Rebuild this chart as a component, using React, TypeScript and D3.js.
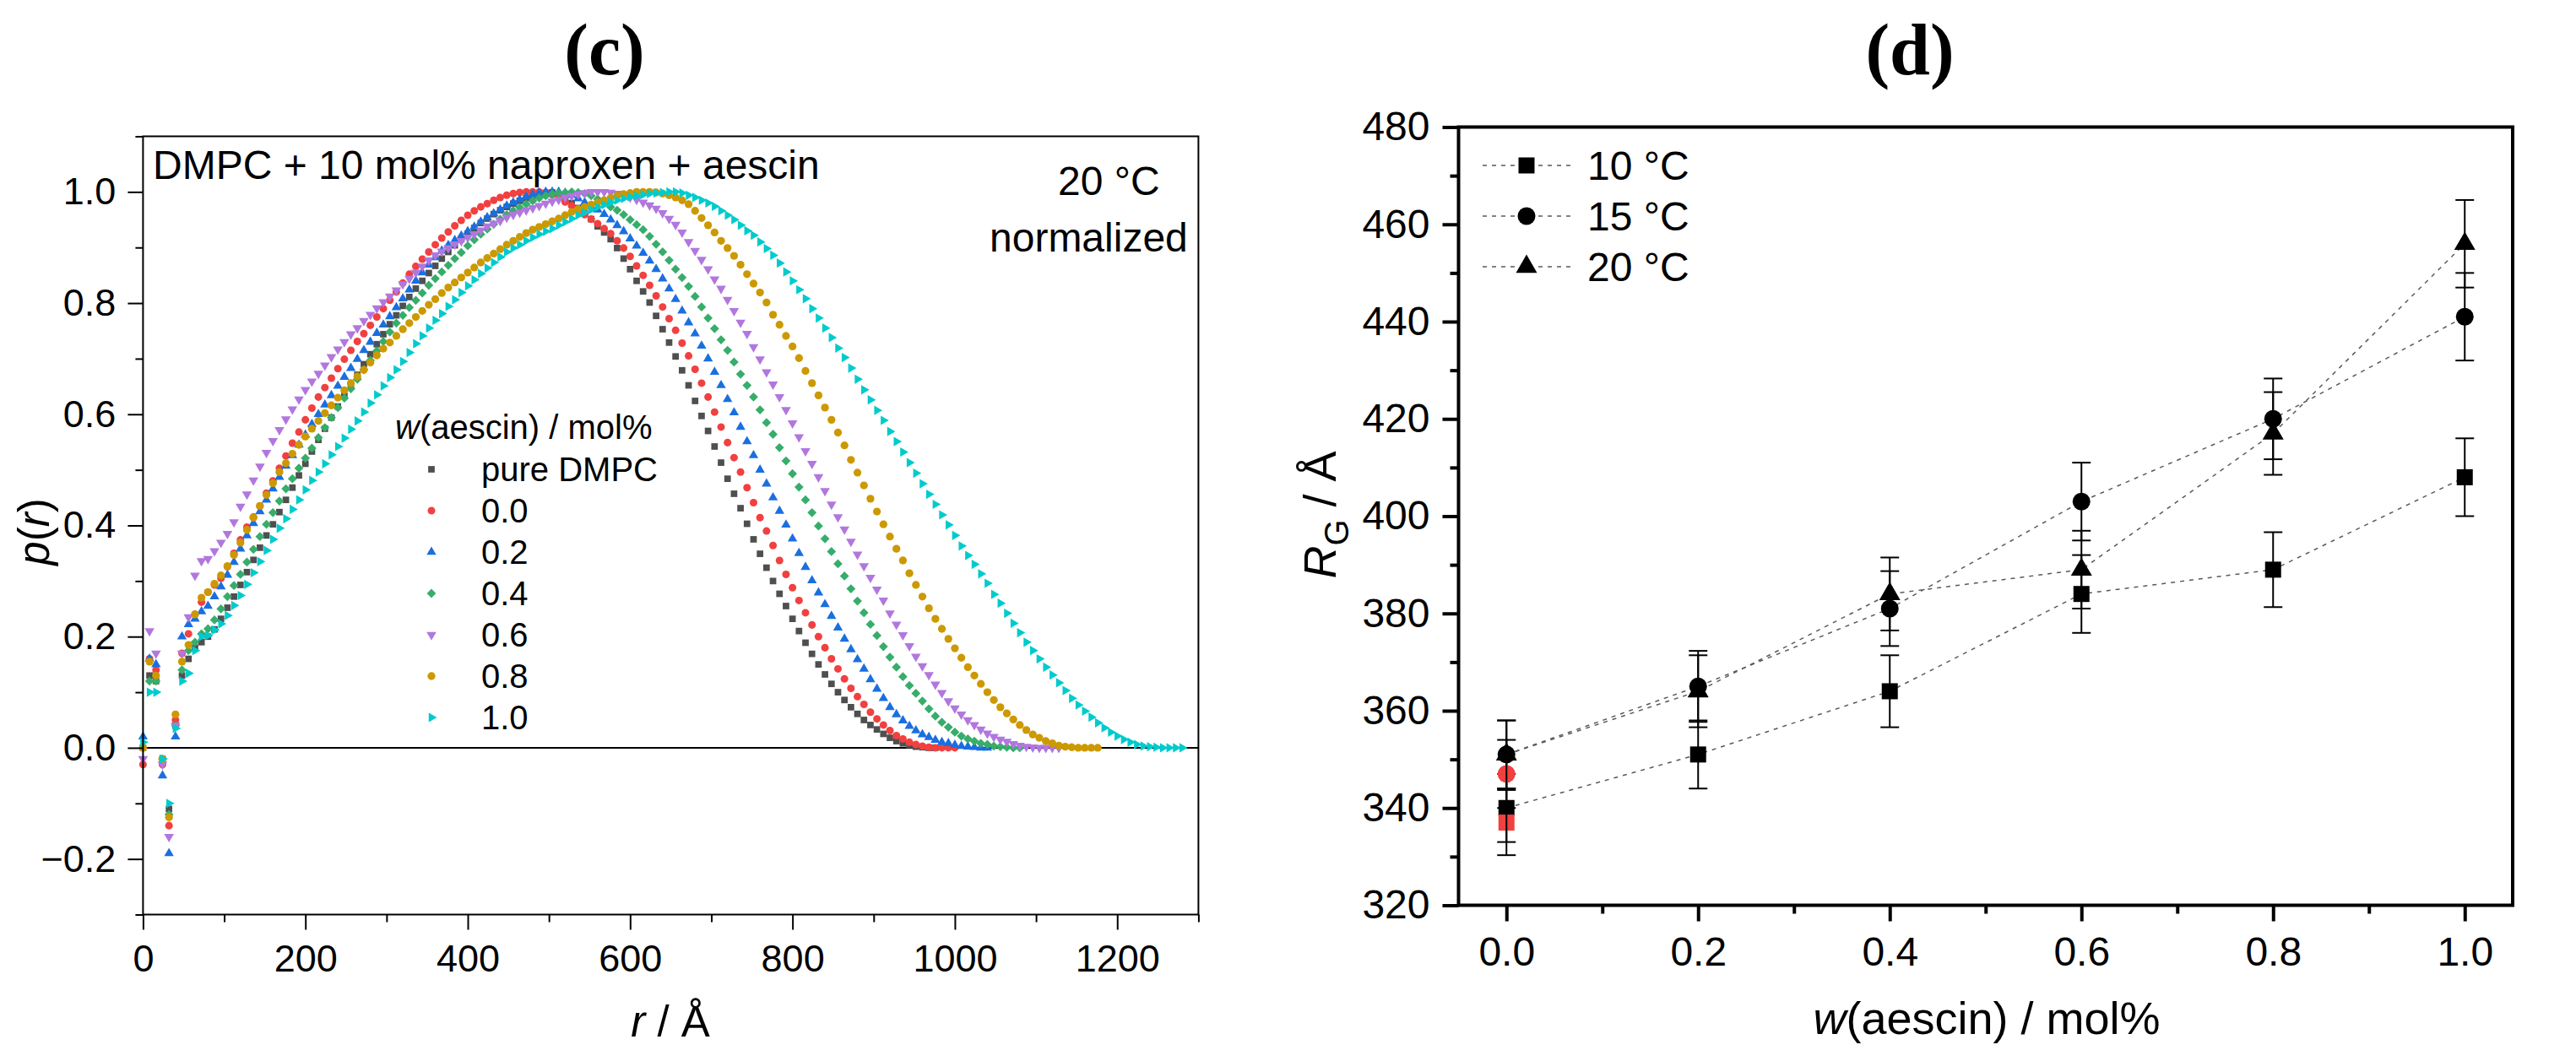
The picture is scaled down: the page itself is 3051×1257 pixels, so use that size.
import { useEffect, useRef } from 'react';
import * as d3 from 'd3';

// ---- panel (c): normalized p(r), values in 1/1000, sampled every R_STEP Å from r = 0
const R_STEP = 8;

const pureDmpc = [
  0, 130, 120, -20, -110, 40, 130, 160, 180, 190,
  200, 213, 232, 252, 272, 293, 316, 338, 360, 382,
  402, 424, 446, 468, 490, 511, 533, 554, 574, 594,
  614, 633, 652, 671, 690, 708, 726, 744, 762, 778,
  795, 811, 826, 840, 854, 867, 880, 892, 904, 915,
  925, 935, 944, 952, 960, 967, 973, 979, 984, 989,
  993, 996, 998, 999, 995, 988, 980, 971, 962, 951,
  938, 927, 915, 899, 880, 861, 840, 821, 801, 777,
  753, 729, 704, 679, 652, 624, 597, 570, 542, 513,
  484, 457, 431, 403, 375, 349, 324, 300, 277, 255,
  232, 210, 189, 169, 150, 132, 115, 100, 86, 73,
  61, 50, 41, 33, 25, 18, 12, 8, 5, 2,
  1, 0, 0,
];

const aescin00 = [
  -30, 160, 140, -30, -140, 50, 170, 205, 240, 262,
  280, 293, 305, 326, 350, 374, 397, 415, 435, 458,
  480, 503, 525, 548, 568, 590, 611, 631, 648, 665,
  682, 699, 715, 731, 745, 760, 775, 790, 805, 820,
  836, 852, 866, 879, 892, 905, 917, 928, 939, 949,
  958, 966, 973, 979, 985, 990, 994, 997, 999, 1000,
  1000, 1000, 999, 995, 989, 982, 975, 967, 959, 951,
  943, 934, 925, 912, 899, 884, 867, 850, 832, 813,
  793, 772, 751, 728, 705, 681, 656, 631, 604, 577,
  549, 522, 496, 468, 441, 414, 390, 364, 337, 312,
  288, 265, 243, 221, 200, 180, 160, 142, 124, 107,
  92, 78, 64, 52, 41, 31, 22, 16, 10, 6,
  3, 1, 0, 0, 0, 0,
];

const aescin02 = [
  20, 160, 150, -50, -190, 20, 200, 222, 232, 245,
  255, 272, 290, 311, 334, 358, 382, 404, 425, 446,
  466, 487, 507, 526, 545, 563, 582, 600, 617, 634,
  651, 667, 683, 699, 715, 730, 746, 761, 776, 792,
  808, 824, 840, 855, 869, 882, 894, 904, 913, 921,
  929, 937, 946, 954, 961, 968, 975, 981, 986, 991,
  995, 998, 1000, 1000, 1000, 998, 994, 988, 981, 974,
  968, 960, 950, 940, 929, 916, 903, 890, 876, 861,
  844, 826, 807, 786, 765, 745, 723, 700, 676, 652,
  627, 603, 577, 551, 526, 500, 475, 450, 426, 401,
  376, 350, 325, 301, 279, 258, 237, 216, 196, 177,
  159, 142, 123, 106, 89, 73, 60, 49, 39, 31,
  24, 19, 14, 10, 8, 5, 3, 2, 1, 0, 0,
];

const aescin04 = [
  0, 120, 120, -20, -120, 40, 140, 175, 190, 205,
  214, 230, 250, 272, 292, 312, 334, 357, 380, 402,
  423, 444, 466, 484, 503, 521, 539, 558, 576, 594,
  612, 629, 646, 663, 680, 697, 714, 731, 748, 764,
  778, 792, 805, 818, 832, 844, 856, 868, 880, 891,
  903, 914, 924, 933, 942, 951, 959, 966, 972, 978,
  984, 989, 993, 996, 998, 999, 1000, 999, 997, 993,
  987, 980, 973, 967, 959, 950, 941, 932, 920, 906,
  892, 877, 861, 846, 830, 812, 793, 773, 754, 734,
  715, 694, 672, 652, 631, 608, 585, 564, 540, 516,
  493, 469, 446, 423, 399, 376, 353, 331, 309, 286,
  264, 243, 222, 202, 182, 163, 145, 128, 112, 98,
  84, 70, 57, 46, 37, 28, 21, 16, 12, 8,
  6, 3, 2, 1, 0, 0,
];

const aescin06 = [
  -20, 210, 170, -30, -160, 40, 170, 235, 310, 336,
  340, 354, 369, 385, 406, 434, 456, 481, 506, 531,
  552, 572, 591, 609, 627, 644, 659, 673, 688, 703,
  717, 730, 744, 755, 768, 779, 791, 802, 812, 823,
  834, 844, 855, 866, 877, 886, 893, 899, 906, 912,
  918, 924, 931, 938, 943, 948, 954, 959, 963, 967,
  971, 975, 979, 983, 986, 990, 993, 996, 998, 1000,
  1000, 1000, 999, 997, 994, 990, 986, 981, 976, 970,
  962, 952, 941, 927, 910, 894, 878, 861, 843, 826,
  806, 786, 765, 745, 721, 699, 676, 654, 631, 608,
  584, 559, 534, 511, 487, 462, 438, 415, 393, 371,
  348, 327, 306, 285, 265, 242, 222, 203, 183, 164,
  147, 131, 114, 99, 84, 71, 60, 50, 41, 33,
  26, 20, 15, 11, 7, 4, 2, 1, 0, 0,
  0, 0,
];

const aescin08 = [
  0, 155, 130, -20, -125, 60, 155, 185, 240, 270,
  280, 295, 310, 327, 347, 369, 392, 414, 435, 455,
  476, 496, 512, 529, 545, 560, 574, 588, 602, 616,
  630, 643, 656, 668, 680, 693, 706, 718, 729, 741,
  753, 764, 775, 786, 797, 807, 818, 828, 837, 846,
  855, 864, 873, 881, 889, 897, 905, 912, 919, 926,
  932, 937, 942, 947, 952, 958, 964, 969, 973, 977,
  981, 985, 989, 993, 996, 998, 1000, 1000, 1000, 999,
  997, 994, 990, 985, 978, 966, 953, 940, 927, 912,
  899, 885, 869, 852, 835, 819, 801, 779, 761, 741,
  722, 701, 678, 656, 634, 612, 590, 567, 544, 518,
  495, 472, 448, 425, 402, 380, 358, 337, 314, 293,
  272, 251, 232, 214, 196, 179, 162, 145, 130, 115,
  100, 86, 73, 62, 51, 41, 32, 24, 18, 12,
  8, 4, 2, 1, 0, 0, 0, 0,
];

const aescin10 = [
  10, 100, 100, -20, -100, 35, 120, 134, 175, 200,
  202, 212, 223, 238, 256, 274, 294, 315, 335, 355,
  375, 395, 412, 429, 446, 464, 481, 496, 511, 527,
  542, 557, 573, 588, 604, 620, 635, 651, 666, 680,
  695, 711, 727, 741, 755, 769, 781, 794, 806, 819,
  831, 842, 853, 863, 873, 883, 892, 899, 905, 912,
  918, 924, 929, 934, 940, 946, 952, 958, 963, 968,
  973, 977, 981, 985, 988, 991, 993, 995, 997, 998,
  999, 1000, 1000, 998, 994, 990, 985, 980, 974, 966,
  958, 950, 940, 930, 922, 910, 898, 886, 872, 856,
  840, 824, 808, 790, 773, 755, 738, 719, 702, 683,
  663, 644, 626, 607, 589, 569, 551, 532, 513, 494,
  475, 456, 438, 419, 401, 382, 363, 346, 330, 313,
  296, 276, 260, 242, 224, 207, 190, 175, 160, 145,
  131, 117, 103, 89, 77, 66, 55, 45, 36, 28,
  21, 15, 10, 6, 3, 2, 1, 0, 0, 0,
  0,
];

const prLabels = ['pure DMPC', '0.0', '0.2', '0.4', '0.6', '0.8', '1.0'];
const prValues = [pureDmpc, aescin00, aescin02, aescin04, aescin06, aescin08, aescin10];
const pTicks = [-0.2, 0, 0.2, 0.4, 0.6, 0.8, 1.0];
const rTicks = [0, 200, 400, 600, 800, 1000, 1200];

// ---- panel (d): radius of gyration
const wAescin = [0, 0.2, 0.4, 0.6, 0.8, 1.0];
const rg10 = [340, 351, 364, 384, 389, 408];
const rg10Err = [7, 7, 7.4, 8, 7.7, 8];
const rg15 = [351, 365, 381, 403, 420, 441];
const rg15Err = [7, 7.3, 7.7, 8, 8.3, 9];
const rg20 = [351, 364, 384, 389, 417, 456];
const rg20Err = [7, 7.4, 7.5, 8, 8.5, 9];
// red reference points at w = 0
const refW = [0];
const refRg10 = [337];
const refRg10Err = [6.7];
const refRg15 = [347];
const refRg15Err = [7];
const rgTicks = [320, 340, 360, 380, 400, 420, 440, 460, 480];
const wTicks = [0, 0.2, 0.4, 0.6, 0.8, 1.0];
const rgLegend = ['10 \u00B0C', '15 \u00B0C', '20 \u00B0C'];

const FONT = '"Liberation Sans", Arial, sans-serif';
const SERIF = '"Liberation Serif", "Times New Roman", serif';

type Shape = 'square' | 'circle' | 'triangle' | 'diamond' | 'triangleDown' | 'triangleRight';

const shapeType: Record<Shape, d3.SymbolType> = {
  square: d3.symbolSquare,
  circle: d3.symbolCircle,
  triangle: d3.symbolTriangle,
  diamond: d3.symbolSquare,
  triangleDown: d3.symbolTriangle,
  triangleRight: d3.symbolTriangle,
};
const shapeRotate: Record<Shape, number> = {
  square: 0, circle: 0, triangle: 0, diamond: 45, triangleDown: 180, triangleRight: 90,
};

const prStyles: { color: string; shape: Shape; size: number }[] = [
  { color: '#4f4f4f', shape: 'square', size: 60 },
  { color: '#f14040', shape: 'circle', size: 64 },
  { color: '#1a6fdf', shape: 'triangle', size: 56 },
  { color: '#37ad6b', shape: 'diamond', size: 58 },
  { color: '#b177de', shape: 'triangleDown', size: 58 },
  { color: '#cc9900', shape: 'circle', size: 68 },
  { color: '#00cbcc', shape: 'triangleRight', size: 54 },
];

function symbolD(shape: Shape, size: number) {
  return d3.symbol(shapeType[shape], size)() as string;
}

function styleAxis(sel: any, fontSize: number, strokeWidth: number) {
  sel.select('.domain').remove();
  sel.attr('font-family', FONT).attr('font-size', fontSize);
  sel.selectAll('.tick line').attr('stroke', '#000').attr('stroke-width', strokeWidth);
  sel.selectAll('.tick text').attr('fill', '#000');
}

function drawPr(g: any) {
  const left = 169.4, right = 1419.4, top = 161.5, bottom = 1083.5;
  const x = d3.scaleLinear().domain([0, 1300]).range([left, right]);
  const y = d3.scaleLinear().domain([-0.3, 1.1]).range([bottom, top]);

  g.append('line')
    .attr('x1', left).attr('x2', right)
    .attr('y1', y(0)).attr('y2', y(0))
    .attr('stroke', '#000').attr('stroke-width', 2);

  prValues.forEach((vals, k) => {
    const st = prStyles[k];
    const d = symbolD(st.shape, st.size);
    g.append('g')
      .selectAll('path')
      .data(vals)
      .join('path')
      .attr('d', d)
      .attr('fill', st.color)
      .attr('transform', (v: number, i: number) =>
        `translate(${x(i * R_STEP)},${y(v / 1000)}) rotate(${shapeRotate[st.shape]})`);
  });

  g.append('rect')
    .attr('x', left).attr('y', top)
    .attr('width', right - left).attr('height', bottom - top)
    .attr('fill', 'none').attr('stroke', '#000').attr('stroke-width', 2);

  g.append('g').attr('transform', `translate(${left},0)`)
    .call(d3.axisLeft(y).tickValues(pTicks).tickSize(18).tickPadding(14).tickFormat(d3.format('.1f')))
    .call(styleAxis, 45, 2);
  g.append('g').attr('transform', `translate(${left},0)`)
    .call(d3.axisLeft(y).tickValues(d3.range(-0.3, 1.15, 0.2)).tickSize(9).tickFormat(() => ''))
    .call(styleAxis, 45, 2);
  g.append('g').attr('transform', `translate(0,${bottom})`)
    .call(d3.axisBottom(x).tickValues(rTicks).tickSize(18).tickPadding(18).tickFormat(d3.format('d')))
    .call(styleAxis, 45, 2);
  g.append('g').attr('transform', `translate(0,${bottom})`)
    .call(d3.axisBottom(x).tickValues(d3.range(100, 1400, 200)).tickSize(9).tickFormat(() => ''))
    .call(styleAxis, 45, 2);

  // axis titles
  const xt = g.append('text')
    .attr('x', 794).attr('y', 1228)
    .attr('text-anchor', 'middle')
    .attr('font-family', FONT).attr('font-size', 51);
  xt.append('tspan').attr('font-style', 'italic').text('r');
  xt.append('tspan').text(' / \u00C5');

  const yt = g.append('text')
    .attr('transform', 'translate(58,630) rotate(-90)')
    .attr('text-anchor', 'middle')
    .attr('font-family', FONT).attr('font-size', 51);
  yt.append('tspan').attr('font-style', 'italic').text('p');
  yt.append('tspan').text('(');
  yt.append('tspan').attr('font-style', 'italic').text('r');
  yt.append('tspan').text(')');

  // annotations
  g.append('text').attr('x', 181).attr('y', 212)
    .attr('font-family', FONT).attr('font-size', 48)
    .text('DMPC + 10 mol% naproxen + aescin');
  g.append('text').attr('x', 1253).attr('y', 231)
    .attr('font-family', FONT).attr('font-size', 48)
    .text('20 \u00B0C');
  g.append('text').attr('x', 1172).attr('y', 298)
    .attr('font-family', FONT).attr('font-size', 48)
    .text('normalized');

  // legend
  const lt = g.append('text').attr('x', 468).attr('y', 520)
    .attr('font-family', FONT).attr('font-size', 40);
  lt.append('tspan').attr('font-style', 'italic').text('w');
  lt.append('tspan').text('(aescin) / mol%');

  prLabels.forEach((label, k) => {
    const st = prStyles[k];
    const base = 570 + k * 49;
    g.append('path')
      .attr('d', symbolD(st.shape, st.size))
      .attr('fill', st.color)
      .attr('transform', `translate(511,${base - 14}) rotate(${shapeRotate[st.shape]})`);
    g.append('text').attr('x', 570).attr('y', base)
      .attr('font-family', FONT).attr('font-size', 40)
      .text(label);
  });

  g.append('text').attr('x', 716).attr('y', 88)
    .attr('text-anchor', 'middle')
    .attr('font-family', SERIF)
    .attr('font-weight', 'bold').attr('font-size', 86)
    .text('(c)');
}

function drawRg(g: any) {
  const left = 1727.5, right = 2976, top = 150.5, bottom = 1072.5;
  const x = d3.scaleLinear().domain([-0.05, 1.05]).range([left, right]);
  const y = d3.scaleLinear().domain([320, 480]).range([bottom, top]);

  const series = [
    { vals: rg10, err: rg10Err, shape: 'square' as Shape, size: 361 },
    { vals: rg15, err: rg15Err, shape: 'circle' as Shape, size: 346 },
    { vals: rg20, err: rg20Err, shape: 'triangle' as Shape, size: 270 },
  ];
  const refs = [
    { vals: refRg15, err: refRg15Err, shape: 'circle' as Shape, size: 346 },
    { vals: refRg10, err: refRg10Err, shape: 'square' as Shape, size: 361 },
  ];

  const line = d3.line<number>().x((_, i) => x(wAescin[i])).y((v) => y(v));
  series.forEach((s) => {
    g.append('path')
      .attr('d', line(s.vals))
      .attr('fill', 'none')
      .attr('stroke', '#5a5a5a').attr('stroke-width', 1.5)
      .attr('stroke-dasharray', '5,6');
  });

  const drawPoints = (ws: number[], vals: number[], err: number[], shape: Shape, size: number, color: string) => {
    g.append('g')
      .selectAll('path')
      .data(vals)
      .join('path')
      .attr('d', symbolD(shape, size))
      .attr('fill', color)
      .attr('transform', (v: number, i: number) => `translate(${x(ws[i])},${y(v)})`);
    const eg = g.append('g').attr('stroke', '#000').attr('stroke-width', 2);
    vals.forEach((v, i) => {
      const cx = x(ws[i]);
      eg.append('line').attr('x1', cx).attr('x2', cx).attr('y1', y(v - err[i])).attr('y2', y(v + err[i]));
      eg.append('line').attr('x1', cx - 11).attr('x2', cx + 11).attr('y1', y(v - err[i])).attr('y2', y(v - err[i]));
      eg.append('line').attr('x1', cx - 11).attr('x2', cx + 11).attr('y1', y(v + err[i])).attr('y2', y(v + err[i]));
    });
  };

  series.forEach((s) => drawPoints(wAescin, s.vals, s.err, s.shape, s.size, '#000'));
  refs.forEach((s) => drawPoints(refW, s.vals, s.err, s.shape, s.size, '#f14040'));

  g.append('rect')
    .attr('x', left).attr('y', top)
    .attr('width', right - left).attr('height', bottom - top)
    .attr('fill', 'none').attr('stroke', '#000').attr('stroke-width', 4);

  g.append('g').attr('transform', `translate(${left},0)`)
    .call(d3.axisLeft(y).tickValues(rgTicks).tickSize(19).tickPadding(15).tickFormat(d3.format('d')))
    .call(styleAxis, 48, 4);
  g.append('g').attr('transform', `translate(${left},0)`)
    .call(d3.axisLeft(y).tickValues(d3.range(330, 480, 20)).tickSize(10).tickFormat(() => ''))
    .call(styleAxis, 48, 4);
  g.append('g').attr('transform', `translate(0,${bottom})`)
    .call(d3.axisBottom(x).tickValues(wTicks).tickSize(19).tickPadding(18).tickFormat(d3.format('.1f')))
    .call(styleAxis, 48, 4);
  g.append('g').attr('transform', `translate(0,${bottom})`)
    .call(d3.axisBottom(x).tickValues(d3.range(0.1, 1.0, 0.2)).tickSize(10).tickFormat(() => ''))
    .call(styleAxis, 48, 4);

  // legend
  const legendShapes: Shape[] = ['square', 'circle', 'triangle'];
  const legendSizes = [361, 346, 270];
  rgLegend.forEach((label, k) => {
    const cy = 196 + k * 60;
    g.append('line')
      .attr('x1', 1756).attr('x2', 1866).attr('y1', cy).attr('y2', cy)
      .attr('stroke', '#5a5a5a').attr('stroke-width', 1.5).attr('stroke-dasharray', '5,6');
    g.append('path')
      .attr('d', symbolD(legendShapes[k], legendSizes[k]))
      .attr('fill', '#000')
      .attr('transform', `translate(1808,${cy})`);
    g.append('text').attr('x', 1880).attr('y', cy + 17)
      .attr('font-family', FONT).attr('font-size', 48)
      .text(label);
  });

  // axis titles
  const xt = g.append('text')
    .attr('x', 2353).attr('y', 1225)
    .attr('text-anchor', 'middle')
    .attr('font-family', FONT).attr('font-size', 54);
  xt.append('tspan').attr('font-style', 'italic').text('w');
  xt.append('tspan').text('(aescin) / mol%');

  const yt = g.append('text')
    .attr('transform', 'translate(1582,610) rotate(-90)')
    .attr('text-anchor', 'middle')
    .attr('font-family', FONT).attr('font-size', 54);
  yt.append('tspan').attr('font-style', 'italic').text('R');
  yt.append('tspan').attr('font-size', 40).attr('dy', 15).text('G');
  yt.append('tspan').attr('dy', -15).text(' / \u00C5');

  g.append('text').attr('x', 2262).attr('y', 88)
    .attr('text-anchor', 'middle')
    .attr('font-family', SERIF)
    .attr('font-weight', 'bold').attr('font-size', 86)
    .text('(d)');
}

export default function App() {
  const ref = useRef<SVGSVGElement | null>(null);

  useEffect(() => {
    if (!ref.current) return;
    const svg = d3.select(ref.current);
    svg.selectAll('*').remove();
    drawPr(svg.append('g'));
    drawRg(svg.append('g'));
  }, []);

  return (
    <svg
      ref={ref}
      width={3051}
      height={1257}
      style={{ position: 'absolute', left: 0, top: 0, background: '#fff', display: 'block' }}
    />
  );
}
